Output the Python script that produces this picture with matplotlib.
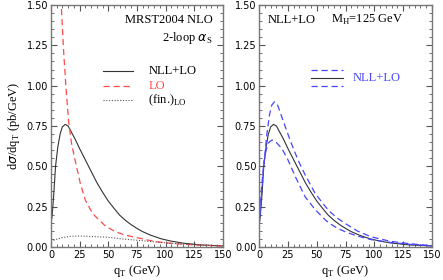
import matplotlib
matplotlib.use("Agg")
import matplotlib.pyplot as plt
from matplotlib.ticker import MultipleLocator
import numpy as np

# NLL+LO central curve (both panels)
qt_nll = [0, 1, 2.5, 4, 6, 8, 10, 12.5, 15, 18, 21, 25, 30, 35, 40, 45, 50, 55, 60, 65, 70, 75, 80, 87, 96, 105, 115, 130, 150]
nll = [0.14, 0.19, 0.33, 0.50, 0.62, 0.70, 0.745, 0.76, 0.75, 0.71, 0.67, 0.61, 0.54, 0.47, 0.40, 0.34, 0.285, 0.24, 0.197, 0.165, 0.138, 0.115, 0.095, 0.073, 0.051, 0.036, 0.024, 0.013, 0.006]

# LO (diverges at small qT)
qt_lo = [8, 9, 11, 13, 15.4, 18, 21, 25.6, 30, 35, 38.7, 47.5, 56, 65, 75, 85, 95, 110, 130, 150]
lo = [1.72, 1.50, 1.22, 1.0, 0.78, 0.64, 0.54, 0.395, 0.29, 0.225, 0.19, 0.13, 0.095, 0.073, 0.058, 0.042, 0.03, 0.019, 0.011, 0.006]

# (fin.)LO
qt_fin = [0, 5, 10, 17, 25, 38, 50, 62, 78, 95, 115, 130, 150]
fin = [0.035, 0.048, 0.058, 0.066, 0.068, 0.064, 0.06, 0.05, 0.04, 0.028, 0.018, 0.012, 0.007]

# scale-variation band (right panel)
qt_up = [0, 2, 4, 6.7, 9, 11, 13.3, 16, 19, 22.7, 27, 31.4, 35, 40, 48.8, 57.5, 62, 68, 74.4, 85, 97, 114, 131, 150]
up = [0.13, 0.32, 0.50, 0.70, 0.82, 0.88, 0.90, 0.88, 0.82, 0.745, 0.66, 0.58, 0.52, 0.446, 0.33, 0.25, 0.215, 0.178, 0.147, 0.10, 0.063, 0.035, 0.02, 0.008]
qt_dn = [0, 2, 4, 6, 8, 11, 14, 19.8, 25, 31.4, 40, 48.8, 57.5, 62, 68, 74.4, 85, 97, 114, 131, 150]
dn = [0.15, 0.36, 0.52, 0.60, 0.645, 0.663, 0.655, 0.61, 0.54, 0.436, 0.31, 0.23, 0.167, 0.142, 0.116, 0.095, 0.068, 0.046, 0.028, 0.016, 0.006]

red = "#ff4a4a"
blue = "#4646ff"
serif = "Liberation Serif"

fig = plt.figure(figsize=(4.43, 2.80), dpi=100)
ax1 = fig.add_axes([0.115, 0.118, 0.388, 0.864])
ax2 = fig.add_axes([0.585, 0.118, 0.390, 0.864])

for ax in (ax1, ax2):
    ax.set_xlim(0, 150)
    ax.set_ylim(0, 1.5)
    ax.xaxis.set_major_locator(MultipleLocator(25))
    ax.xaxis.set_minor_locator(MultipleLocator(5))
    ax.yaxis.set_major_locator(MultipleLocator(0.25))
    ax.yaxis.set_minor_locator(MultipleLocator(0.05))
    ax.set_yticks(np.arange(0, 1.51, 0.25))
    ax.set_yticklabels(["0.00", "0.25", "0.50", "0.75", "1.00", "1.25", "1.50"])
    ax.tick_params(which="both", direction="in", top=True, right=True, labelsize=7, pad=2, color="#555555")
    ax.tick_params(which="major", length=4, width=0.8)
    ax.tick_params(which="minor", length=2, width=0.6)
    for s in ax.spines.values():
        s.set_color("#777777")
        s.set_linewidth(1.0)
    ax.set_xlabel(r"q$_\mathregular{T}$ (GeV)", fontfamily=serif, fontsize=9, labelpad=2)

# left panel
ax1.plot(qt_nll, nll, color="#333333", lw=0.8)
ax1.plot(qt_lo, lo, color=red, lw=0.9, ls=(0, (5, 3)))
ax1.plot(qt_fin, fin, color="#555555", lw=0.8, ls=(0, (1, 1.5)))
ax1.set_ylabel(r"d$\sigma$/dq$_\mathregular{T}$ (pb/GeV)", fontfamily=serif, fontsize=9, labelpad=3)

ax1.text(0.94, 0.94, "MRST2004 NLO", transform=ax1.transAxes, ha="right", va="center", fontfamily=serif, fontsize=9)
ax1.text(0.94, 0.865, r"2-loop $\alpha_\mathregular{S}$", transform=ax1.transAxes, ha="right", va="center", fontfamily=serif, fontsize=9)

xl0, xl1, xt = 45, 72, 85
ax1.plot([xl0, xl1], [1.09, 1.09], color="#333333", lw=0.8)
ax1.plot([xl0, xl1], [1.0, 1.0], color=red, lw=0.9, ls=(0, (5, 3)))
ax1.plot([xl0, xl1], [0.91, 0.91], color="#555555", lw=0.8, ls=(0, (1, 1.5)))
ax1.text(xt, 1.09, "NLL+LO", ha="left", va="center", fontfamily=serif, fontsize=9)
ax1.text(xt, 1.0, "LO", ha="left", va="center", fontfamily=serif, fontsize=9, color=red)
ax1.text(xt, 0.91, r"(fin.)$_\mathregular{LO}$", ha="left", va="center", fontfamily=serif, fontsize=9)

# right panel
ax2.plot(qt_nll, nll, color="#333333", lw=0.8)
ax2.plot(qt_up, up, color=blue, lw=0.9, ls=(0, (5, 3)))
ax2.plot(qt_dn, dn, color=blue, lw=0.9, ls=(0, (5, 3)))

ax2.text(0.05, 0.94, "NLL+LO", transform=ax2.transAxes, ha="left", va="center", fontfamily=serif, fontsize=9)
ax2.text(0.415, 0.94, r"M$_\mathregular{H}$=125 GeV", transform=ax2.transAxes, ha="left", va="center", fontfamily=serif, fontsize=9)

xr0, xr1, xrt = 45, 73, 81
ax2.plot([xr0, xr1], [1.095, 1.095], color=blue, lw=0.9, ls=(0, (5, 3)))
ax2.plot([xr0, xr1], [1.05, 1.05], color="#333333", lw=0.8)
ax2.plot([xr0, xr1], [1.0, 1.0], color=blue, lw=0.9, ls=(0, (5, 3)))
ax2.text(xrt, 1.05, "NLL+LO", ha="left", va="center", fontfamily=serif, fontsize=9, color=blue)

fig.savefig("out.png", dpi=100)
